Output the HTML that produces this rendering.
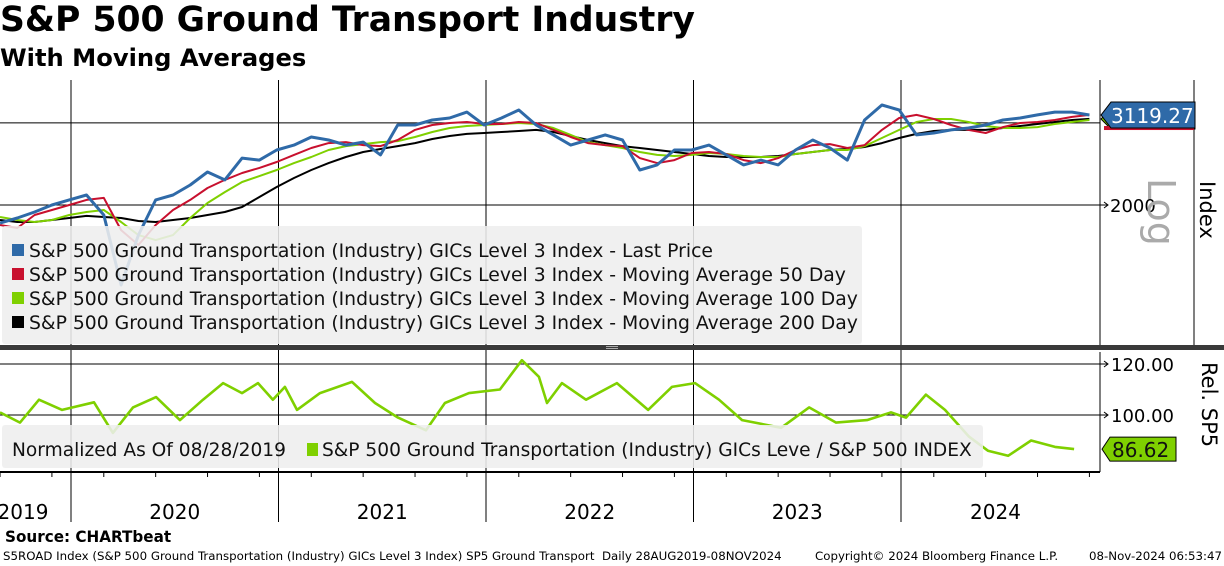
<!DOCTYPE html>
<html><head><meta charset="utf-8"><style>
body{margin:0;background:#fff;width:1224px;height:566px;overflow:hidden;position:relative;font-family:"DejaVu Sans",sans-serif}
.t{position:absolute;white-space:nowrap}
</style></head><body>
<div class="t" style="left:0;top:0px;font:bold 34.6px 'DejaVu Sans',sans-serif">S&amp;P 500 Ground Transport Industry</div>
<div class="t" style="left:0;top:44px;font:bold 24.2px 'DejaVu Sans',sans-serif">With Moving Averages</div>
<svg id="c" width="1224" height="566" style="position:absolute;left:0;top:0" font-family="DejaVu Sans, sans-serif"></svg>
<div class="t" style="left:5px;top:527px;font:bold 16px 'DejaVu Sans',sans-serif;transform:scaleX(0.95);transform-origin:left">Source: CHARTbeat</div>
<div class="t" style="left:3px;top:549px;font-size:11.8px">S5ROAD Index (S&amp;P 500 Ground Transportation (Industry) GICs Level 3 Index) SP5 Ground Transport&nbsp; Daily 28AUG2019-08NOV2024</div>
<div class="t" style="left:815px;top:549px;font-size:11.8px">Copyright© 2024 Bloomberg Finance L.P.</div>
<div class="t" style="left:1089px;top:549px;font-size:11.8px">08-Nov-2024 06:53:47</div>
<script>
const price=[1830,1876,1932,2000,2051,2101,1904,1347,1724,2051,2101,2208,2354,2264,2522,2497,2625,2689,2799,2757,2689,2729,2561,2969,2969,3044,3074,3165,2969,3074,3197,2969,2827,2689,2757,2827,2757,2378,2438,2625,2625,2689,2561,2438,2497,2438,2625,2757,2651,2497,3044,3278,3197,2827,2855,2898,2925,2969,3044,3074,3121,3165,3165,3119.27];
const ma50=[1812,1785,1904,1951,2000,2051,2071,1767,1641,1812,1951,2051,2175,2264,2342,2402,2473,2561,2651,2716,2729,2689,2676,2757,2898,2969,2999,3014,2984,2984,3014,2999,2898,2799,2716,2689,2676,2522,2460,2497,2586,2599,2573,2497,2460,2522,2625,2689,2702,2651,2689,2898,3074,3121,3059,2969,2898,2855,2939,2999,3014,3044,3090,3121];
const ma100=[1885,1857,1839,1857,1904,1932,1951,1839,1724,1682,1724,1876,2020,2132,2241,2307,2378,2460,2535,2625,2676,2702,2729,2743,2799,2869,2925,2954,2969,2984,2999,2984,2925,2827,2729,2689,2651,2599,2561,2548,2561,2586,2573,2548,2535,2535,2573,2599,2625,2625,2676,2785,2898,3014,3059,3059,3014,2954,2925,2925,2939,2984,3014,3044];
const ma200=[1857,1839,1839,1857,1876,1895,1885,1876,1848,1839,1857,1876,1904,1932,1980,2081,2186,2285,2378,2460,2535,2599,2638,2676,2716,2771,2813,2841,2855,2869,2883,2898,2869,2813,2757,2716,2676,2651,2625,2599,2573,2548,2535,2535,2535,2548,2573,2599,2625,2638,2664,2716,2785,2841,2883,2898,2898,2898,2925,2954,2984,3014,3044,3060];
const relDates=[2019.658,2019.754,2019.846,2019.957,2020.111,2020.202,2020.299,2020.410,2020.525,2020.636,2020.733,2020.824,2020.901,2020.973,2021.031,2021.089,2021.200,2021.354,2021.465,2021.576,2021.711,2021.802,2021.918,2022.067,2022.173,2022.255,2022.294,2022.366,2022.482,2022.631,2022.781,2022.896,2023.007,2023.123,2023.234,2023.422,2023.557,2023.687,2023.836,2023.952,2024.024,2024.120,2024.212,2024.328,2024.419,2024.516,2024.627,2024.742,2024.834];
const relValues=[101,97,106,102,105,93,103,107,98,106,112.5,108.6,112.5,106,111,102,108.6,113,104.7,99,94,104.7,108.6,110,121.5,115,104.7,112.5,106,112.5,102,111,112.5,106,98,95,103,97,98,101,99,108,102,91.5,86,84,90,87.5,86.62];
const years=["2019","2020","2021","2022","2023","2024"];
const yearStarts=[2019.658,2020,2021,2022,2023,2024];
const yearEnds=[2020,2021,2022,2023,2024,2024.99];
const relTicks=[120,100];

const S=document.getElementById('c'),NS='http://www.w3.org/2000/svg';
function mk(t,a,p){const e=document.createElementNS(NS,t);for(const k in a)e.setAttribute(k,a[k]);(p||S).appendChild(e);return e;}
const X=t=>71+(t-2020)*207.5;
const Yp=v=>205-Math.log(v/2000)/0.00494;
const Yr=v=>415-(v-100)*2.55;
const mT=i=>2019.658+i/12;

for(let i=1;i<years.length;i++){const x=X(yearStarts[i]);const l=mk('line',{x1:x,y1:80,x2:x,y2:522,stroke:'#000','stroke-width':1});}
[2000,3000].forEach(v=>{const l=mk('line',{x1:0,y1:Yp(v),x2:1100,y2:Yp(v),stroke:'#000','stroke-width':1});});
relTicks.forEach(v=>{const l=mk('line',{x1:0,y1:Yr(v),x2:1100,y2:Yr(v),stroke:'#000','stroke-width':1});});

function line(arr,tf,yf,col,w,name){let d='';arr.forEach((v,i)=>{d+=(i?'L':'M')+X(tf(i)).toFixed(1)+' '+yf(v).toFixed(1);});const p=mk('path',{d:d,fill:'none',stroke:col,'stroke-width':w,'stroke-linejoin':'round'});}
line(ma200,mT,Yp,'#000',2,'ma200-line');
line(ma100,mT,Yp,'#7fd000',2,'ma100-line');
line(ma50,mT,Yp,'#c8102e',2,'ma50-line');
line(price,mT,Yp,'#2f6aa8',3,'price-line');
line(relValues,i=>relDates[i],Yr,'#7fd000',2.6,'relative-line');

mk('line',{x1:1100,y1:80,x2:1100,y2:345,stroke:'#000'});
mk('line',{x1:1194,y1:80,x2:1194,y2:345,stroke:'#000'});
mk('line',{x1:1100,y1:352,x2:1100,y2:472,stroke:'#000'});
mk('line',{x1:0,y1:472,x2:1100,y2:472,stroke:'#000','stroke-width':2});
for(let i=0;i<64;i+=3){const x=X(mT(i));mk('line',{x1:x,y1:472,x2:x,y2:477,stroke:'#000'});}
mk('rect',{x:0,y:345,width:1224,height:5,fill:'#3a3a3a'});
mk('rect',{x:606,y:346,width:12,height:1,fill:'#aaa'});mk('rect',{x:606,y:348,width:12,height:1,fill:'#aaa'});

const lg=mk('rect',{x:2,y:226,width:860,height:118,fill:'#eeeeee','fill-opacity':0.88,rx:3});
const names=['Last Price','Moving Average 50 Day','Moving Average 100 Day','Moving Average 200 Day'];
const cols=['#2f6aa8','#c8102e','#7fd000','#000'];
names.forEach((n,i)=>{const y=250+24*i;mk('rect',{x:12,y:y-6,width:12,height:12,fill:cols[i]});const t=mk('text',{x:29,y:y+7,'font-size':18.8,fill:'#111'});t.textContent='S&P 500 Ground Transportation (Industry) GICs Level 3 Index - '+n;});
const lg2=mk('rect',{x:2,y:425,width:981,height:43,fill:'#eeeeee','fill-opacity':0.88,rx:3});
let t=mk('text',{x:12,y:456,'font-size':18.6,fill:'#111'});t.textContent='Normalized As Of 08/28/2019';
mk('rect',{x:307,y:443,width:11,height:13,fill:'#7fd000'});
t=mk('text',{x:322,y:456,'font-size':18.6,fill:'#111'});t.textContent='S&P 500 Ground Transportation (Industry) GICs Leve / S&P 500 INDEX';

mk('path',{d:'M1100 205 l8 0 m-4 -3 l4 3 l-4 3',stroke:'#000',fill:'none'});
t=mk('text',{x:1110,y:212,'font-size':18});t.textContent='2000';
relTicks.forEach(v=>{mk('path',{d:'M1100 '+Yr(v)+' l8 0 m-4 -3 l4 3 l-4 3',stroke:'#000',fill:'none'});const tt=mk('text',{x:1111,y:Yr(v)+7,'font-size':18});tt.textContent=v.toFixed(2);});
t=mk('text',{transform:'translate(1200,181) rotate(90)','font-size':21});t.textContent='Index';
t=mk('text',{transform:'translate(1148,178) rotate(90)','font-size':38,fill:'#aaa'});t.textContent='Log';
t=mk('text',{transform:'translate(1202,362) rotate(90)','font-size':21});t.textContent='Rel. SP5';
const pv=price[price.length-1],py=Yp(pv);
mk('path',{d:`M1101 ${py+4} l10 -10 h84 v20 h-84 z`,fill:'#7fd000',stroke:'#000'});
mk('rect',{x:1104,y:py+11,width:90,height:4,fill:'#c8102e'});
mk('path',{d:`M1101 ${py} l10 -13 h84 v26 h-84 z`,fill:'#2f6aa8',stroke:'#000'});
t=mk('text',{x:1111,y:py+8,'font-size':20,fill:'#fff'});t.textContent=pv.toFixed(2);
const rv=relValues[relValues.length-1],ry=Yr(rv);
mk('path',{d:`M1102 ${ry} l8 -12 h66 v24 h-66 z`,fill:'#7fd000',stroke:'#000'});
t=mk('text',{x:1112,y:ry+8,'font-size':20,fill:'#111'});t.textContent=rv.toFixed(2);
years.forEach((y,i)=>{const x=(X(yearStarts[i])+Math.min(X(yearEnds[i]),1090))/2;const tt=mk('text',{x:i==0?23:x,y:519,'font-size':20,'text-anchor':'middle'});tt.textContent=y;});
</script>
</body></html>
